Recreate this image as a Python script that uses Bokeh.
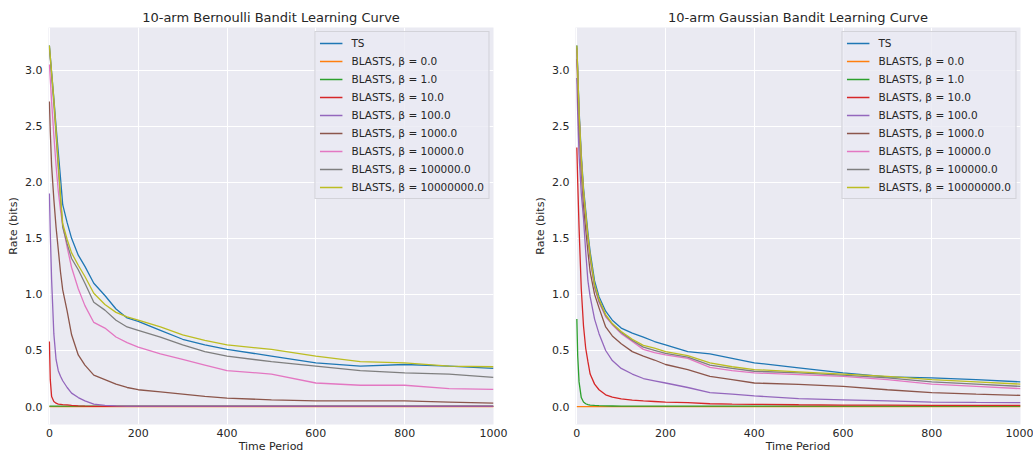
from bokeh.plotting import figure
from bokeh.layouts import row
from bokeh.models import Range1d, Legend, LegendItem, FixedTicker, PrintfTickFormatter
from bokeh.embed import file_html
from bokeh.resources import INLINE

# ---------------- data ----------------
T = [0, 2, 5, 10, 15, 20, 25, 30, 40, 50, 65, 80, 100, 125, 150,
     175, 200, 250, 300, 350, 400, 500, 600, 700, 800, 900, 1000]

labels = ["TS", "BLASTS, β = 0.0", "BLASTS, β = 1.0", "BLASTS, β = 10.0", "BLASTS, β = 100.0",
          "BLASTS, β = 1000.0", "BLASTS, β = 10000.0", "BLASTS, β = 100000.0", "BLASTS, β = 10000000.0"]
colors = ["#1f77b4", "#ff7f0e", "#2ca02c", "#d62728", "#9467bd", "#8c564b", "#e377c2", "#7f7f7f", "#bcbd22"]

x_ticks = [0, 200, 400, 600, 800, 1000]
y_ticks = [0.0, 0.5, 1.0, 1.5, 2.0, 2.5, 3.0]

# Bernoulli bandit
bern_ts   = [3.22, 3.12, 2.98, 2.75, 2.50, 2.27, 2.04, 1.80, 1.64, 1.50, 1.35, 1.25, 1.10, 0.99, 0.87,
             0.79, 0.76, 0.68, 0.60, 0.55, 0.51, 0.45, 0.39, 0.36, 0.375, 0.36, 0.34]
bern_b0   = [0.0] * 27
bern_b1   = [0.004] * 27
bern_b10  = [0.58, 0.24, 0.09, 0.045, 0.03, 0.022, 0.02, 0.018, 0.015, 0.01, 0.006, 0.004, 0.002] + [0.002] * 14
bern_b100 = [1.90, 1.55, 1.13, 0.65, 0.42, 0.32, 0.27, 0.23, 0.17, 0.12, 0.08, 0.05, 0.022, 0.01, 0.006,
             0.004, 0.004, 0.004, 0.004, 0.004, 0.004, 0.004, 0.004, 0.004, 0.004, 0.004, 0.004]
bern_b1e3 = [2.72, 2.45, 2.15, 1.85, 1.60, 1.40, 1.20, 1.04, 0.85, 0.64, 0.46, 0.37, 0.28, 0.24, 0.20,
             0.17, 0.15, 0.13, 0.11, 0.09, 0.075, 0.06, 0.05, 0.05, 0.05, 0.04, 0.03]
bern_b1e4 = [3.05, 2.92, 2.72, 2.42, 2.15, 1.92, 1.75, 1.62, 1.42, 1.24, 1.05, 0.90, 0.75, 0.70, 0.62,
             0.57, 0.53, 0.47, 0.42, 0.37, 0.32, 0.29, 0.21, 0.19, 0.19, 0.16, 0.154]
bern_b1e5 = [3.20, 3.10, 2.95, 2.70, 2.42, 2.13, 1.85, 1.60, 1.45, 1.32, 1.22, 1.10, 0.93, 0.86, 0.77,
             0.71, 0.68, 0.62, 0.55, 0.49, 0.45, 0.40, 0.36, 0.32, 0.30, 0.29, 0.26]
bern_b1e7 = [3.22, 3.12, 2.98, 2.74, 2.46, 2.18, 1.88, 1.63, 1.49, 1.37, 1.26, 1.16, 1.01, 0.91, 0.84,
             0.80, 0.77, 0.71, 0.64, 0.59, 0.55, 0.51, 0.45, 0.40, 0.39, 0.36, 0.355]

# Gaussian bandit
gaus_ts   = [3.22, 3.00, 2.65, 2.25, 1.95, 1.75, 1.55, 1.38, 1.12, 0.98, 0.85, 0.77, 0.70, 0.655, 0.62,
             0.58, 0.55, 0.49, 0.47, 0.43, 0.39, 0.345, 0.30, 0.265, 0.255, 0.24, 0.22]
gaus_b0   = [0.0] * 27
gaus_b1   = [0.78, 0.45, 0.22, 0.08, 0.04, 0.025, 0.018, 0.013, 0.01, 0.008, 0.006, 0.005] + [0.004] * 15
gaus_b10  = [2.31, 2.00, 1.60, 1.05, 0.72, 0.52, 0.40, 0.29, 0.20, 0.15, 0.105, 0.085, 0.068, 0.058, 0.05,
             0.045, 0.04, 0.035, 0.025, 0.022, 0.02, 0.016, 0.013, 0.012, 0.011, 0.01, 0.01]
gaus_b100 = [2.93, 2.60, 2.25, 1.90, 1.68, 1.38, 1.12, 0.98, 0.78, 0.65, 0.50, 0.41, 0.34, 0.29, 0.25,
             0.23, 0.21, 0.17, 0.125, 0.11, 0.095, 0.07, 0.06, 0.05, 0.04, 0.037, 0.035]
gaus_b1e3 = [3.10, 2.85, 2.50, 2.10, 1.80, 1.58, 1.38, 1.20, 1.00, 0.88, 0.71, 0.63, 0.56, 0.49, 0.45,
             0.415, 0.375, 0.33, 0.27, 0.24, 0.21, 0.198, 0.18, 0.15, 0.125, 0.11, 0.10]
gaus_b1e4 = [3.18, 2.97, 2.60, 2.20, 1.90, 1.69, 1.49, 1.32, 1.06, 0.93, 0.80, 0.73, 0.65, 0.58, 0.51,
             0.48, 0.46, 0.43, 0.35, 0.32, 0.30, 0.285, 0.27, 0.24, 0.20, 0.18, 0.16]
gaus_b1e5 = [3.20, 2.98, 2.61, 2.21, 1.91, 1.70, 1.50, 1.33, 1.07, 0.94, 0.81, 0.735, 0.66, 0.59, 0.53,
             0.50, 0.475, 0.44, 0.37, 0.34, 0.315, 0.30, 0.28, 0.255, 0.22, 0.20, 0.18]
gaus_b1e7 = [3.22, 3.00, 2.63, 2.22, 1.93, 1.72, 1.52, 1.35, 1.09, 0.96, 0.82, 0.74, 0.67, 0.60, 0.545,
             0.52, 0.49, 0.455, 0.39, 0.355, 0.33, 0.31, 0.29, 0.27, 0.24, 0.22, 0.20]

bern_series = [bern_ts, bern_b0, bern_b1, bern_b10, bern_b100, bern_b1e3, bern_b1e4, bern_b1e5, bern_b1e7]
gaus_series = [gaus_ts, gaus_b0, gaus_b1, gaus_b10, gaus_b100, gaus_b1e3, gaus_b1e4, gaus_b1e5, gaus_b1e7]

FONT = "DejaVu Sans"
TXT = "#262626"


def make(title, series, width, bl, br, xstart):
    p = figure(width=width, height=455, x_range=Range1d(xstart, 1000), y_range=Range1d(-0.16, 3.38),
               output_backend="svg", toolbar_location=None,
               min_border_left=bl, min_border_right=br, min_border_top=27, min_border_bottom=30,
               background_fill_color="#EAEAF2", border_fill_color="white", outline_line_color=None)
    p.title.text = title
    p.title.align = "center"
    p.title.text_font = FONT
    p.title.text_font_size = "13px"
    p.title.text_font_style = "normal"
    p.title.text_color = TXT
    p.title.standoff = 5

    p.xaxis.ticker = FixedTicker(ticks=x_ticks)
    p.yaxis.ticker = FixedTicker(ticks=y_ticks)
    p.yaxis.formatter = PrintfTickFormatter(format="%.1f")
    p.xaxis.formatter = PrintfTickFormatter(format="%d")
    p.xaxis.axis_label = "Time Period"
    p.yaxis.axis_label = "Rate (bits)"
    for ax in (p.xaxis, p.yaxis):
        ax.axis_line_color = None
        ax.major_tick_line_color = None
        ax.minor_tick_line_color = None
        ax.major_tick_out = 0
        ax.major_tick_in = 0
        ax.major_label_text_font = FONT
        ax.major_label_text_font_size = "11px"
        ax.major_label_text_color = TXT
        ax.axis_label_text_font = FONT
        ax.axis_label_text_font_size = "11px"
        ax.axis_label_text_font_style = "normal"
        ax.axis_label_text_color = TXT
    p.xaxis.major_label_standoff = 4
    p.xaxis.axis_label_standoff = 0
    p.yaxis.major_label_standoff = 6
    p.yaxis.axis_label_standoff = 2

    p.xgrid.grid_line_color = "white"
    p.ygrid.grid_line_color = "white"
    p.xgrid.grid_line_width = 1
    p.ygrid.grid_line_width = 1

    items = []
    for ys, c, lab in zip(series, colors, labels):
        r = p.line(T, ys, line_color=c, line_width=1.3)
        items.append(LegendItem(label=lab, renderers=[r]))

    leg = Legend(items=items, location="top_right")
    leg.margin = 4
    leg.padding = 4
    leg.spacing = 4
    leg.label_height = 14
    leg.glyph_height = 14
    leg.glyph_width = 23
    leg.label_standoff = 9
    leg.label_text_font = FONT
    leg.label_text_font_size = "10.5px"
    leg.label_text_color = TXT
    leg.background_fill_color = "#EAEAF2"
    leg.background_fill_alpha = 0.8
    leg.border_line_color = "#d0d0d6"
    leg.border_line_alpha = 0.9
    leg.border_line_width = 1
    p.add_layout(leg)
    return p


p1 = make("10-arm Bernoulli Bandit Learning Curve", bern_series, 515, 48, 22, -2)
p2 = make("10-arm Gaussian Bandit Learning Curve", gaus_series, 518, 60, 13, -3)

layout = row(p1, p2)
open("out.html", "w").write(file_html(layout, INLINE))
